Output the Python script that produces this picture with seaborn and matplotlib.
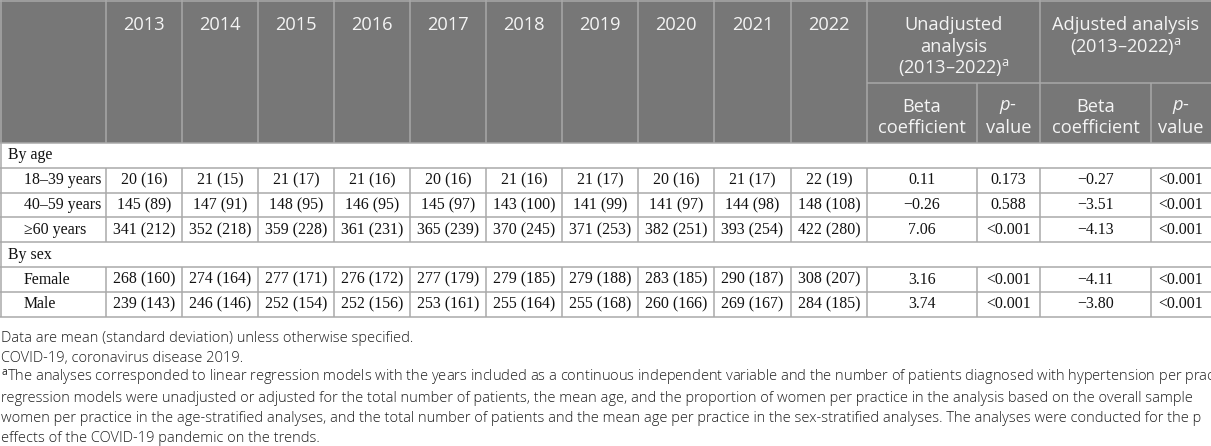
import matplotlib
matplotlib.use("Agg")
import numpy as np
import pandas as pd
import seaborn as sns
import matplotlib.pyplot as plt
from matplotlib.patches import Rectangle
from matplotlib.font_manager import FontProperties
from matplotlib.textpath import TextPath

# ---------------- data ----------------
years = [2013, 2014, 2015, 2016, 2017, 2018, 2019, 2020, 2021, 2022]
group_labels = ["By age", "By sex"]
age_labels = ["18–39 years", "40–59 years", "≥60 years"]
sex_labels = ["Female", "Male"]

mean_18_39 = [20, 21, 21, 21, 20, 21, 21, 20, 21, 22]
sd_18_39 = [16, 15, 17, 16, 16, 16, 17, 16, 17, 19]
mean_40_59 = [145, 147, 148, 146, 145, 143, 141, 141, 144, 148]
sd_40_59 = [89, 91, 95, 95, 97, 100, 99, 97, 98, 108]
mean_60 = [341, 352, 359, 361, 365, 370, 371, 382, 393, 422]
sd_60 = [212, 218, 228, 231, 239, 245, 253, 251, 254, 280]
mean_female = [268, 274, 277, 276, 277, 279, 279, 283, 290, 308]
sd_female = [160, 164, 171, 172, 179, 185, 188, 185, 187, 207]
mean_male = [239, 246, 252, 252, 253, 255, 255, 260, 269, 284]
sd_male = [143, 146, 154, 156, 161, 164, 168, 166, 167, 185]

beta_unadjusted = [0.11, -0.26, 7.06, 3.16, 3.74]
p_unadjusted = ["0.173", "0.588", "<0.001", "<0.001", "<0.001"]
beta_adjusted = [-0.27, -3.51, -4.13, -4.11, -3.80]
p_adjusted = ["<0.001", "<0.001", "<0.001", "<0.001", "<0.001"]

header_unadj = ["Unadjusted", "analysis", "(2013–2022)$^{\\rm a}$"]
header_adj = ["Adjusted analysis", "(2013–2022)$^{\\rm a}$"]
sub_beta = ["Beta", "coefficient"]
sub_p = ["$p$-", "value"]

footnotes = [
    "Data are mean (standard deviation) unless otherwise specified.",
    "COVID-19, coronavirus disease 2019.",
    "$^{\\rm a}$The analyses corresponded to linear regression models with the years included as a continuous independent variable and the number of patients diagnosed with hypertension per practice",
    "regression models were unadjusted or adjusted for the total number of patients, the mean age, and the proportion of women per practice in the analysis based on the overall sample",
    "women per practice in the age-stratified analyses, and the total number of patients and the mean age per practice in the sex-stratified analyses. The analyses were conducted for the p",
    "effects of the COVID-19 pandemic on the trends.",
]

# ---------------- style ----------------
sns.set_theme(style="white")
plt.rcParams["font.family"] = ["Open Sans", "DejaVu Sans"]
plt.rcParams["mathtext.fontset"] = "custom"
plt.rcParams["mathtext.rm"] = "Open Sans"
plt.rcParams["mathtext.it"] = "Open Sans:italic"
plt.rcParams["mathtext.bf"] = "Open Sans:bold"

W, H, DPI = 1211, 446, 100


def fit_size(text, family, target_px, weight="normal"):
    fp = FontProperties(family=family, weight=weight, size=10)
    w = TextPath((0, 0), text, prop=fp).get_extents().width  # points at size 10
    w_px = w * DPI / 72.0
    return 10.0 * target_px / w_px


head_fs = fit_size("Unadjusted", "Open Sans", 95)
body_fs = fit_size("18–39 years", "Liberation Serif", 75)
fs_a = fit_size("Data are mean (standard deviation) unless otherwise specified.", "Open Sans", 403, "light")
fs_b = fit_size("The analyses corresponded to linear regression models with the years included as a continuous "
                "independent variable and the number of patients diagnosed with hypertension per pra",
                "Open Sans", 1204, "light")
foot_fs = 0.35 * fs_a + 0.65 * fs_b

fig = plt.figure(figsize=(W / DPI, H / DPI), dpi=DPI)
ax = fig.add_axes([0, 0, 1, 1])
ax.set_xlim(0, W)
ax.set_ylim(H, 0)
ax.axis("off")

# layout
edges = [0, 106, 182, 258, 334, 410, 486, 562, 638, 714, 791, 867, 977, 1040, 1151, 1211]
head_top, head_mid, head_bot = 0, 83, 143
row_h = 24.83
n_rows = 7
row_edges = [head_bot + row_h * i for i in range(n_rows + 1)]

head_fill = "#777777"
head_line = "#a8a8a8"
body_line = "#a9a9a9"
head_txt = "#f4f4f4"
body_txt = "#111111"
lw = 1.1

# header background
ax.add_patch(Rectangle((0, head_top), W, head_bot - head_top, facecolor=head_fill, edgecolor="none", zorder=0))
ax.hlines(0.5, 0, W, color=head_line, lw=lw)
for x in edges[:12] + [1040]:
    xx = max(x, 0.6)
    ax.vlines(xx, 0, head_bot, color=head_line, lw=lw)
for x in [977, 1151]:
    ax.vlines(x, head_mid, head_bot, color=head_line, lw=lw)
ax.hlines(head_mid, 867, W, color=head_line, lw=lw)

# header texts
centers = [(edges[i] + edges[i + 1]) / 2 for i in range(len(edges) - 1)]
for i, yr in enumerate(years):
    ax.text(centers[i + 1], 25, str(yr), ha="center", va="center", color=head_txt,
            fontsize=head_fs, family="Open Sans")
line_ys = [25, 46.5, 68]
for s, y in zip(header_unadj, line_ys):
    ax.text((867 + 1040) / 2, y, s, ha="center", va="center", color=head_txt, fontsize=head_fs, family="Open Sans")
for s, y in zip(header_adj, line_ys):
    ax.text((1040 + 1211) / 2, y, s, ha="center", va="center", color=head_txt, fontsize=head_fs, family="Open Sans")
for cx in [centers[11], centers[13]]:
    for s, y in zip(sub_beta, [107, 128]):
        ax.text(cx, y, s, ha="center", va="center", color=head_txt, fontsize=head_fs, family="Open Sans")
for cx in [centers[12], centers[14]]:
    for s, y in zip(sub_p, [107, 128]):
        ax.text(cx, y, s, ha="center", va="center", color=head_txt, fontsize=head_fs, family="Open Sans")

# body rows
def fmt_beta(v):
    return f"{v:.2f}".replace("-", "−")

data_rows = [
    (age_labels[0], mean_18_39, sd_18_39),
    (age_labels[1], mean_40_59, sd_40_59),
    (age_labels[2], mean_60, sd_60),
    (sex_labels[0], mean_female, sd_female),
    (sex_labels[1], mean_male, sd_male),
]
table = pd.DataFrame({
    "label": [r[0] for r in data_rows],
    "beta_u": beta_unadjusted, "p_u": p_unadjusted,
    "beta_a": beta_adjusted, "p_a": p_adjusted,
})
layout = [("group", 0), ("row", 0), ("row", 1), ("row", 2), ("group", 1), ("row", 3), ("row", 4)]

for y in row_edges:
    ax.hlines(y, 0, W, color=body_line, lw=lw)
ax.vlines(0.6, head_bot, row_edges[-1], color=body_line, lw=lw)

for r, (kind, idx) in enumerate(layout):
    y0, y1 = row_edges[r], row_edges[r + 1]
    yc = (y0 + y1) / 2
    if kind == "group":
        ax.text(8, yc, group_labels[idx], ha="left", va="center", color=body_txt,
                fontsize=body_fs, family="Liberation Serif")
        continue
    for x in edges[1:-1]:
        ax.vlines(x, y0, y1, color=body_line, lw=lw)
    label, means, sds = data_rows[idx]
    ax.text(24, yc, label, ha="left", va="center", color=body_txt, fontsize=body_fs, family="Liberation Serif")
    for j in range(len(years)):
        ax.text(centers[j + 1], yc, f"{means[j]} ({sds[j]})", ha="center", va="center",
                color=body_txt, fontsize=body_fs, family="Liberation Serif")
    row = table.iloc[idx]
    vals = [fmt_beta(row["beta_u"]), row["p_u"], fmt_beta(row["beta_a"]), row["p_a"]]
    for k, v in enumerate(vals):
        ax.text(centers[11 + k], yc, v, ha="center", va="center", color=body_txt,
                fontsize=body_fs, family="Liberation Serif")

# footnotes
for i, s in enumerate(footnotes):
    ax.text(1, 338 + 20 * i, s, ha="left", va="center", color="#1e1e1e",
            fontsize=foot_fs, family="Open Sans", fontweight="light")

fig.savefig("out.png", dpi=DPI)
